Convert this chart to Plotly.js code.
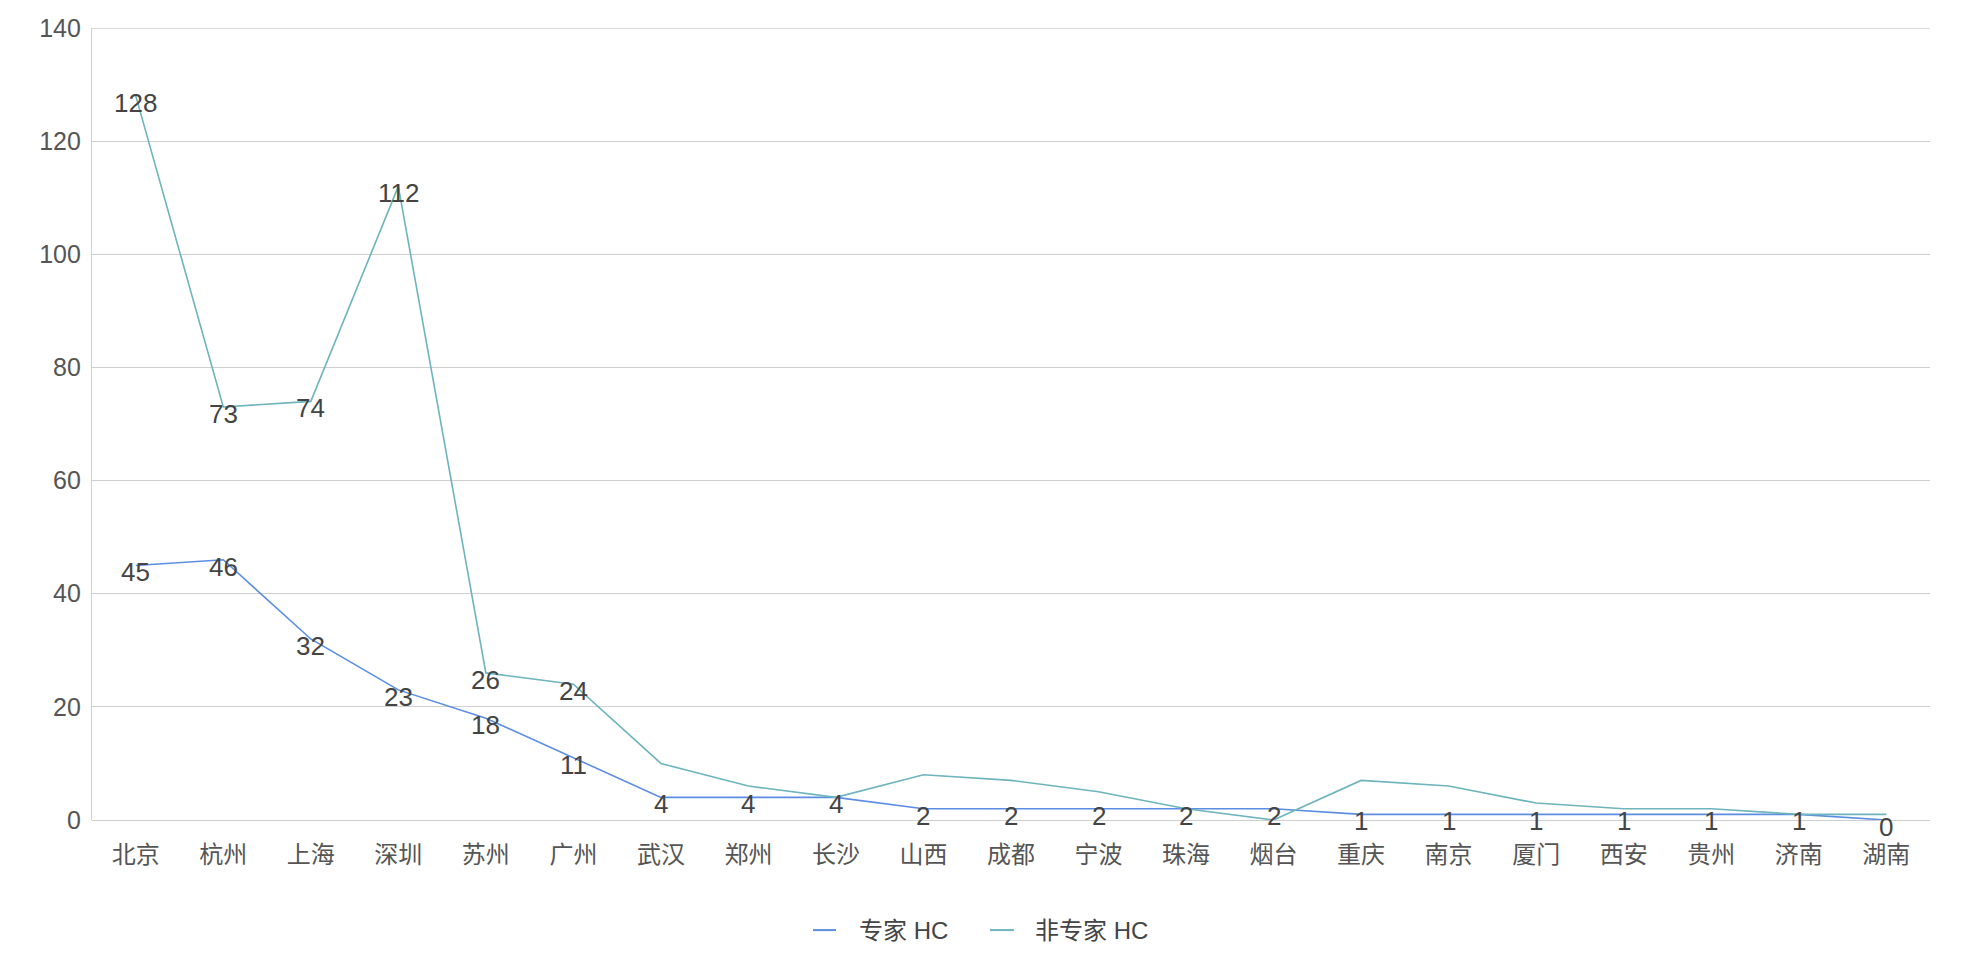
<!DOCTYPE html>
<html>
<head>
<meta charset="utf-8">
<script src="https://cdn.plot.ly/plotly-3.0.1.min.js"></script>
<style>html,body{margin:0;padding:0;background:#fff;}#chart{width:1976px;height:980px;}</style>
</head>
<body>
<div id="chart"></div>
<script>
const cities = ["北京","杭州","上海","深圳","苏州","广州","武汉","郑州","长沙","山西","成都","宁波","珠海","烟台","重庆","南京","厦门","西安","贵州","济南","湖南"];
const expertHC = [45,46,32,23,18,11,4,4,4,2,2,2,2,2,1,1,1,1,1,1,0];
const nonExpertHC = [128,73,74,112,26,24,10,6,4,8,7,5,2,0,7,6,3,2,2,1,1];
const seriesNames = ["专家 HC","非专家 HC"];
const yTicks = [0,20,40,60,80,100,120,140];
// which non-expert labels are visible in the reference (others hidden by overlap)
const nonExpertLabelShown = [true,true,true,true,true,true,false,false,false,false,false,false,false,false,false,false,false,false,false,false,false];

const FONT = "Liberation Sans, Noto Sans CJK SC, sans-serif";
const seriesColors = ["#5b8de3", "#6db4bc"];
const GRID = "#cfcfcf";

const traces = [
  {x: cities, y: expertHC, name: seriesNames[0], type: "scatter", mode: "lines",
   line: {color: seriesColors[0], width: 1.6}, hoverinfo: "x+y"},
  {x: cities, y: nonExpertHC, name: seriesNames[1], type: "scatter", mode: "lines",
   line: {color: seriesColors[1], width: 1.6}, hoverinfo: "x+y"}
];

const annotations = [];
cities.forEach((c, i) => {
  annotations.push({x: c, y: expertHC[i], xref: "x", yref: "y", text: String(expertHC[i]),
    showarrow: false, yshift: -7, font: {family: FONT, size: 26, color: "#444"}});
  if (nonExpertLabelShown[i]) {
    annotations.push({x: c, y: nonExpertHC[i], xref: "x", yref: "y", text: String(nonExpertHC[i]),
      showarrow: false, yshift: -7, font: {family: FONT, size: 26, color: "#444"}});
  }
});

// custom legend (line sample + label), positioned in paper coords
const legendY = -0.139;
const legendItems = [
  {lineX0: 0.3923, lineX1: 0.4048, textX: 0.4162},
  {lineX0: 0.4886, lineX1: 0.5016, textX: 0.5120}
];
const shapes = [
  {type: "line", xref: "paper", yref: "y", x0: 0, x1: 1, y0: yTicks[yTicks.length-1], y1: yTicks[yTicks.length-1],
   line: {color: GRID, width: 1.3}, layer: "below"}
];
legendItems.forEach((it, k) => {
  shapes.push({type: "line", xref: "paper", yref: "paper", x0: it.lineX0, x1: it.lineX1, y0: legendY, y1: legendY,
    line: {color: seriesColors[k], width: 2}});
  annotations.push({xref: "paper", yref: "paper", x: it.textX, y: legendY, xanchor: "left", yanchor: "middle",
    text: seriesNames[k], showarrow: false, font: {family: FONT, size: 24, color: "#444"}});
});

const layout = {
  width: 1976, height: 980,
  margin: {l: 92, r: 46, t: 28, b: 160},
  paper_bgcolor: "#fff", plot_bgcolor: "#fff",
  showlegend: false,
  xaxis: {type: "category", range: [-0.5, cities.length - 0.5], showgrid: false,
    showline: false, zeroline: false, ticks: "", ticklabelstandoff: 18,
    tickfont: {family: FONT, size: 24, color: "#555"}},
  yaxis: {range: [0, 140], tickvals: yTicks, showgrid: true, gridcolor: GRID, gridwidth: 1.3,
    zeroline: true, zerolinecolor: GRID, zerolinewidth: 1.3,
    showline: true, linecolor: GRID, linewidth: 1.3, ticks: "", ticklabelstandoff: 5,
    tickfont: {family: FONT, size: 25, color: "#555"}},
  annotations: annotations,
  shapes: shapes,
  font: {family: FONT}
};

Plotly.newPlot("chart", traces, layout, {displayModeBar: false});
</script>
</body>
</html>
